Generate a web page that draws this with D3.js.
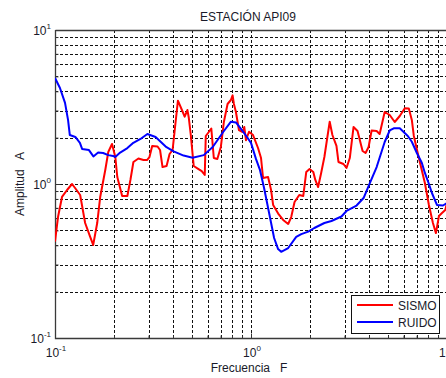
<!DOCTYPE html>
<html><head><meta charset="utf-8">
<script src="https://cdn.jsdelivr.net/npm/d3@7"></script>
<style>
html,body{margin:0;padding:0;background:#fff;}
svg{display:block;font-family:Arial,"Liberation Sans",sans-serif;}
</style></head>
<body><svg id="c" width="446" height="378"></svg>
<script>
// ---- data ----
const title = "ESTACIÓN API09";
const xLabel = "Frecuencia   F";
const yLabel = "Amplitud   A";
const seriesNames = ["SISMO", "RUIDO"];
const decadeTicks = [0.1, 1, 10];
const decadeLabels = ["-1", "0", "1"];

const sismoFreq = [0.100,0.1036,0.1086,0.1152,0.1222,0.1266,0.1344,0.1425,0.1512,0.1566,0.1642,0.1701,0.1805,0.1870,0.1954,0.2031,0.2079,0.2201,0.2340,0.2425,0.2512,0.2665,0.2827,0.2946,0.3034,0.3132,0.3335,0.3435,0.3537,0.3709,0.3842,0.3981,0.4124,0.4238,0.4464,0.4587,0.4736,0.4809,0.4924,0.5102,0.5349,0.5606,0.5809,0.5878,0.6090,0.6273,0.6461,0.6733,0.7017,0.7270,0.7594,0.7897,0.8057,0.8181,0.8377,0.8679,0.9067,0.9240,0.9427,0.9767,1.024,1.086,1.125,1.152,1.222,1.266,1.297,1.376,1.459,1.548,1.604,1.668,1.763,1.848,1.914,1.990,2.079,2.129,2.2005,2.280,2.368,2.453,2.521,2.602,2.729,2.794,2.963,3.071,3.192,3.335,3.496,3.709,3.842,3.981,4.124,4.375,4.533,4.809,5.102,5.412,5.741,6.090,6.385,6.615,6.773,7.185,7.712,8.085,8.476,8.781,9.099,9.427,9.801,10.0];
const sismoAmp = [0.423,0.610,0.824,0.914,1.000,0.942,0.848,0.558,0.453,0.402,0.558,0.824,1.233,1.614,1.818,1.497,1.110,0.836,0.836,1.062,1.390,1.464,1.431,1.431,1.497,1.766,1.752,1.663,1.289,1.309,1.566,1.663,2.527,3.474,2.978,2.735,3.023,2.724,2.112,1.309,1.260,1.214,1.144,2.050,2.176,2.293,1.475,1.453,1.739,2.527,3.307,3.511,3.765,3.307,2.934,2.242,2.176,2.345,1.926,2.185,2.080,1.713,1.475,1.094,1.110,0.914,0.731,0.643,0.584,0.550,0.610,0.764,0.848,0.836,1.197,1.252,1.197,1.062,0.956,1.179,1.497,2.019,2.539,2.080,1.766,1.390,1.349,1.270,1.475,2.345,2.208,1.638,1.589,1.739,2.226,2.208,2.112,2.934,2.806,2.527,2.764,3.101,3.092,2.604,2.050,1.475,1.015,0.731,0.558,0.480,0.620,0.648,0.678,0.753];

const ruidoFreq = [0.100,0.106,0.1125,0.1166,0.119,0.127,0.134,0.1375,0.149,0.157,0.166,0.176,0.187,0.198,0.203,0.215,0.234,0.251,0.273,0.296,0.326,0.367,0.403,0.453,0.504,0.574,0.638,0.718,0.790,0.838,0.899,0.954,1.00,1.061,1.112,1.166,1.237,1.312,1.375,1.425,1.548,1.701,1.805,1.960,2.104,2.368,2.573,2.894,3.071,3.455,3.753,4.029,4.376,4.809,5.102,5.349,5.741,6.310,6.614,7.018,7.444,7.713,8.086,8.377,8.886,9.539,10.0];
const ruidoAmp = [4.88,4.20,3.36,2.60,2.08,2.02,1.85,1.69,1.66,1.51,1.60,1.59,1.54,1.52,1.50,1.60,1.71,1.85,1.96,2.11,2.02,1.75,1.63,1.53,1.48,1.54,1.74,2.16,2.54,2.51,2.24,2.02,1.85,1.45,1.23,0.942,0.648,0.446,0.378,0.363,0.384,0.453,0.473,0.491,0.518,0.558,0.575,0.615,0.668,0.725,0.811,1.007,1.289,1.874,2.226,2.30,2.30,2.05,1.88,1.59,1.37,1.18,1.00,0.874,0.731,0.725,0.753];

const seriesColors = ["#ff0000", "#0000ff"];

// ---- chart ----
const svg = d3.select("#c");
const L = 55, R = 447, T = 30, B = 338;
const x = d3.scaleLog().domain([0.1, 10]).range([L, R]);
const y = d3.scaleLog().domain([0.1, 10]).range([B, T]);
const txt = "#1a1a2a";

const allTicks = [];
[0.1, 1].forEach(d => { for (let k = 1; k <= 9; k++) allTicks.push(+(d * k).toPrecision(3)); });
allTicks.push(10);
const inner = allTicks.filter(v => v > 0.1 && v < 10);

svg.append("rect").attr("x", L).attr("y", T).attr("width", R - L).attr("height", B - T).attr("fill", "#fff");

// grid
const g = svg.append("g").attr("stroke", "#111").attr("stroke-width", 1).attr("stroke-dasharray", "3,2").attr("fill", "none");
inner.forEach(v => {
  const px = Math.round(x(v)) + 0.5;
  g.append("line").attr("x1", px).attr("x2", px).attr("y1", T).attr("y2", B);
  const py = Math.round(y(v)) + 0.5;
  g.append("line").attr("x1", L).attr("x2", R).attr("y1", py).attr("y2", py);
});

// axes ticks
const xAxis = d3.axisBottom(x).tickValues(allTicks).tickFormat("").tickSizeInner(-3).tickSizeOuter(0);
const xa = svg.append("g").attr("transform", `translate(0,${B + 0.5})`).call(xAxis);
xa.selectAll(".tick line").filter(d => decadeTicks.includes(d)).attr("y2", -5);
const yAxis = d3.axisLeft(y).tickValues(allTicks).tickFormat("").tickSizeInner(-3).tickSizeOuter(0);
const ya = svg.append("g").attr("transform", `translate(${L + 0.5},0)`).call(yAxis);
ya.selectAll(".tick line").filter(d => decadeTicks.includes(d)).attr("x2", 5);
svg.selectAll(".domain").remove();
svg.selectAll(".tick line").attr("stroke", "#333");

// box
svg.append("path").attr("d", `M${L + 0.5},${T + 0.5}H${R}M${L + 0.5},${T}V${B + 0.5}H${R}`)
  .attr("stroke", "#3a3a3a").attr("stroke-width", 1.3).attr("fill", "none");

// tick labels
decadeTicks.forEach((v, i) => {
  const t = svg.append("text").attr("x", x(v) + 1).attr("y", B + 19).attr("text-anchor", "middle")
    .attr("font-size", 12).attr("fill", txt);
  t.append("tspan").text("10");
  t.append("tspan").attr("dy", -6).attr("font-size", 8).text(decadeLabels[i]);
  const t2 = svg.append("text").attr("x", L - 4).attr("y", y(v) + 5)
    .attr("font-size", 12).attr("fill", txt).attr("text-anchor", "end");
  t2.append("tspan").text("10");
  t2.append("tspan").attr("dy", -6).attr("font-size", 8).text(decadeLabels[i]);
});

// clip
svg.append("clipPath").attr("id", "clip").append("rect")
  .attr("x", L).attr("y", T).attr("width", R - L + 2).attr("height", B - T);

const line = d3.line().x(d => x(d[0])).y(d => y(d[1]));
const sismo = sismoFreq.map((f, i) => [f, sismoAmp[i]]);
const ruido = ruidoFreq.map((f, i) => [f, ruidoAmp[i]]);
const lines = svg.append("g").attr("clip-path", "url(#clip)");
lines.append("path").datum(sismo).attr("d", line).attr("fill", "none")
  .attr("stroke", seriesColors[0]).attr("stroke-width", 2).attr("stroke-linejoin", "round");
lines.append("path").datum(ruido).attr("d", line).attr("fill", "none")
  .attr("stroke", seriesColors[1]).attr("stroke-width", 2).attr("stroke-linejoin", "round");

// title & labels
svg.append("text").attr("x", 248).attr("y", 21).attr("text-anchor", "middle")
  .attr("font-size", 12).attr("fill", txt).text(title);
svg.append("text").attr("x", 249).attr("y", 372).attr("text-anchor", "middle")
  .attr("font-size", 12).attr("fill", txt).style("white-space", "pre").text(xLabel);
svg.append("text").attr("transform", `translate(24,184) rotate(-90)`).attr("text-anchor", "middle")
  .attr("font-size", 12).attr("fill", txt).style("white-space", "pre").text(yLabel);

// legend
const lg = svg.append("g");
lg.append("rect").attr("x", 351.5).attr("y", 295.5).attr("width", 88).attr("height", 38)
  .attr("fill", "#fff").attr("stroke", "#111").attr("stroke-width", 1);
seriesNames.forEach((n, i) => {
  const yy = 305 + i * 17;
  lg.append("line").attr("x1", 357).attr("x2", 393).attr("y1", yy).attr("y2", yy)
    .attr("stroke", seriesColors[i]).attr("stroke-width", 2);
  lg.append("text").attr("x", 398).attr("y", yy + 4.5).attr("font-size", 12).attr("fill", txt).text(n);
});
</script></body></html>
